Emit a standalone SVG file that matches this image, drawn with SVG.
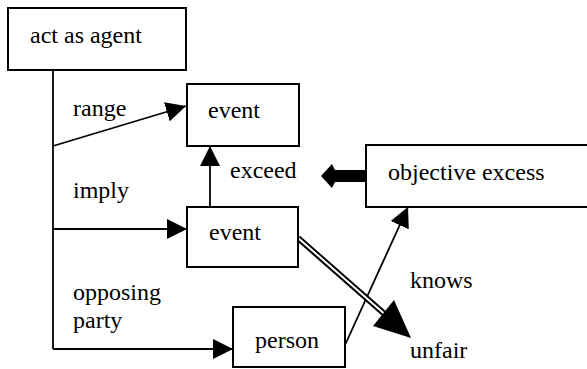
<svg xmlns="http://www.w3.org/2000/svg" width="587" height="369" viewBox="0 0 587 369">
<style>
.box{fill:#fff;stroke:#000;stroke-width:2}
.t{font-size:24px;fill:#000}
.ln{stroke:#000;stroke-width:1.8;fill:none}
</style>
<defs>
<marker id="ah" viewBox="0 0 20 20" refX="20" refY="10" markerWidth="20" markerHeight="20" markerUnits="userSpaceOnUse" orient="auto">
<path d="M0,0 L20,10 L0,20 z" fill="#000"/>
</marker>
</defs>
<rect width="587" height="369" fill="#fff"/>
<g id="connectors">
<path class="ln" d="M53,58 V349"/>
<path class="ln" d="M53,146 L186,106" marker-end="url(#ah)"/>
<path class="ln" d="M53,229 H187" marker-end="url(#ah)"/>
<path class="ln" d="M53,349 H233" marker-end="url(#ah)"/>
<path class="ln" d="M210,207 V146" marker-end="url(#ah)"/>
<path class="ln" d="M345,345 L408,207" marker-end="url(#ah)"/>
<path d="M298,238 L388,317" stroke="#000" stroke-width="6" fill="none"/>
<path d="M297,237 L388,317" stroke="#fff" stroke-width="2" fill="none"/>
<polygon points="411,338 373,326 394,300" fill="#000"/>
<polygon points="366,170 335,170 332,164 321,176 332,188 335,182 366,182" fill="#000"/>
</g>
<g font-family="'Liberation Serif', 'DejaVu Serif', serif">
<g id="act-as-agent"><rect class="box" x="8" y="8" width="178" height="62"/><text class="t" x="30" y="43">act as agent</text></g>
<g id="event1"><rect class="box" x="187" y="84" width="112" height="62"/><text class="t" x="208" y="118">event</text></g>
<g id="event2"><rect class="box" x="187" y="207" width="111" height="60"/><text class="t" x="209" y="240">event</text></g>
<g id="objective-excess"><rect class="box" x="366" y="145" width="240" height="62"/><text class="t" x="388" y="180">objective excess</text></g>
<g id="person"><rect class="box" x="233" y="307" width="112" height="60"/><text class="t" x="255" y="348">person</text></g>
<g id="unfair"><text class="t" x="410" y="358">unfair</text></g>
<g id="labels">
<text class="t" x="73" y="116">range</text>
<text class="t" x="73" y="198">imply</text>
<text class="t" x="230" y="178">exceed</text>
<text class="t" x="73" y="300">opposing</text>
<text class="t" x="73" y="328">party</text>
<text class="t" x="410" y="288">knows</text>
</g>
</g>
</svg>
